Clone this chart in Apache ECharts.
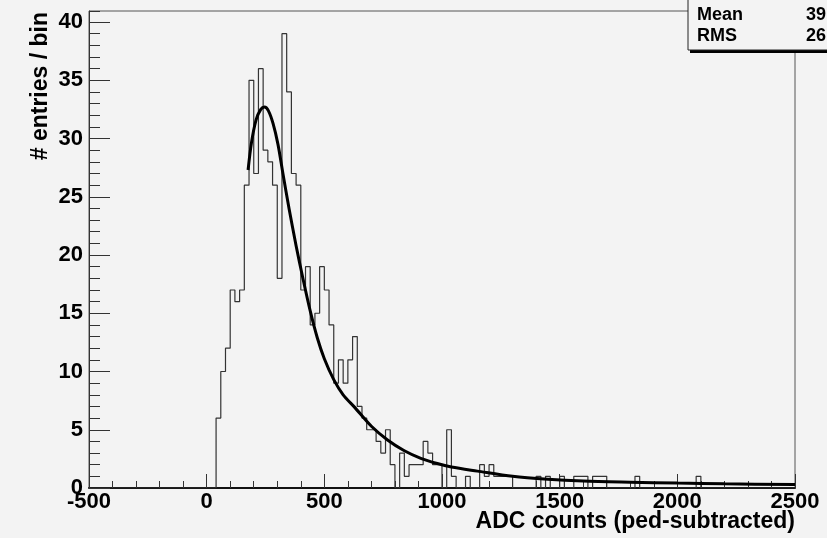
<!DOCTYPE html>
<html>
<head>
<meta charset="utf-8">
<script src="https://cdn.jsdelivr.net/npm/echarts@6/dist/echarts.min.js"></script>
<style>
html,body{margin:0;padding:0;background:#f3f3f3}
#chart{width:827px;height:538px}
</style>
</head>
<body>
<div id="chart"></div>
<script>
// histogram: 150 bins of 20 ADC counts from -500 to 2500
var binLow = -500;
var binWidth = 20;
var counts = [
  0,0,0,0,0,0,0,0,0,0, 0,0,0,0,0,0,0,0,0,0, 0,0,0,0,0,0,0,
  6,10,12,17,16,17,26,35,27,36,
  29,28,26,18,39,34,27,26,17,19,
  14,15,19,17,14,9,11,9,11,13,
  7,6,5,5,4,3,5,2,0,3,
  1,2,2,2,4,3,2,2,0,5,
  1,0,0,1,0,0,2,1,2,1,
  1,1,1,0,0,0,0,0,1,0,
  1,0,0,1,0,0,1,1,1,0,
  1,1,1,0,
  0,0,0,0,0,1,0,0,0,0, 0,0,0,0,0,0,0,0,1,0,
  0,0,0,0,0,0,0,0,0,0, 0,0,0,0,0,0,0,0,0
];

// fitted curve
var fitX = [176, 190, 210, 230, 246, 262, 282, 303, 324, 350, 380, 410, 440, 470, 500, 540, 580, 630,
            700, 770, 840, 910, 980, 1040, 1150, 1300, 1450, 1600, 1800, 2000, 2200, 2500];
var fitY = [27.3, 29.6, 31.6, 32.5, 32.7, 32.4, 31.3, 29.5, 27.0, 24.0, 20.8, 17.9, 15.2, 12.9, 11.1, 9.3, 8.0, 6.9,
            5.3, 4.1, 3.2, 2.55, 2.1, 1.8, 1.45, 1.0, 0.75, 0.6, 0.5, 0.42, 0.36, 0.3];

var statNames = ['Mean', 'RMS'];
var statValues = ['39', '26'];

var xMin = -500, xMax = 2500, xStep = 500;
var yMin = 0, yMax = 40.95, yStep = 5;

var histData = [];
for (var i = 0; i < counts.length; i++) {
  histData.push([binLow + i * binWidth, counts[i]]);
}
histData.push([binLow + counts.length * binWidth, counts[counts.length - 1]]);

var fitData = [];
for (var j = 0; j < fitX.length; j++) {
  fitData.push([fitX[j], fitY[j]]);
}

var labelFont = {fontFamily: 'Liberation Sans', fontWeight: 'bold', fontSize: 22, color: '#000',
                 formatter: function (v) { return String(v); }};

var chart = echarts.init(document.getElementById('chart'));
chart.setOption({
  backgroundColor: '#f3f3f3',
  animation: false,
  grid: {
    left: 89, right: 32, top: 11, bottom: 50,
    show: true, borderColor: '#555', borderWidth: 1, backgroundColor: 'transparent'
  },
  xAxis: {
    type: 'value', min: xMin, max: xMax, interval: xStep,
    axisLine: {onZero: false, lineStyle: {color: '#111', width: 2}},
    axisTick: {inside: true, length: 14, lineStyle: {color: '#333', width: 1}},
    minorTick: {show: true, splitNumber: 5, length: 7, lineStyle: {color: '#333', width: 1}},
    axisLabel: Object.assign({margin: 3}, labelFont),
    splitLine: {show: false}
  },
  yAxis: [{
    type: 'value', min: yMin, max: yMax, interval: yStep, position: 'left',
    axisLine: {show: true, onZero: false, lineStyle: {color: '#333', width: 1}},
    axisTick: {inside: true, length: 21, lineStyle: {color: '#333', width: 1}},
    axisLabel: Object.assign({margin: 6, showMaxLabel: false}, labelFont),
    splitLine: {show: false}
  }, {
    type: 'value', min: yMin, max: yMax, interval: 1, position: 'left',
    axisLine: {show: false, onZero: false},
    axisTick: {inside: true, length: 11, lineStyle: {color: '#333', width: 1}},
    axisLabel: {show: false},
    splitLine: {show: false}
  }],
  series: [{
    type: 'line', step: 'end', data: histData, symbol: 'none',
    lineStyle: {color: '#333', width: 1.2}, z: 2
  }, {
    type: 'line', data: fitData, symbol: 'none', smooth: 0.3,
    lineStyle: {color: '#000', width: 3}, z: 3
  }],
  graphic: [
    {type: 'text', x: 41, y: 12, rotation: Math.PI / 2, z: 50,
     style: {text: '# entries / bin', font: 'bold 23px "Liberation Sans"', fill: '#000',
              textAlign: 'right', textVerticalAlign: 'middle'}},
    {type: 'text', x: 795, y: 522, z: 50,
     style: {text: 'ADC counts (ped-subtracted)', font: 'bold 23px "Liberation Sans"', fill: '#000',
              textAlign: 'right', textVerticalAlign: 'middle'}},
    {type: 'rect', z: 99, shape: {x: 690, y: 50, width: 150, height: 3}, style: {fill: '#000'}},
    {type: 'rect', z: 100, shape: {x: 688, y: -2, width: 160, height: 52},
     style: {fill: '#f3f3f3', stroke: '#222', lineWidth: 1}},
    {type: 'text', x: 697, y: 15, z: 101,
     style: {text: statNames[0], font: 'bold 18px "Liberation Sans"', fill: '#000', textVerticalAlign: 'middle'}},
    {type: 'text', x: 697, y: 36, z: 101,
     style: {text: statNames[1], font: 'bold 18px "Liberation Sans"', fill: '#000', textVerticalAlign: 'middle'}},
    {type: 'text', x: 806, y: 15, z: 101,
     style: {text: statValues[0], font: 'bold 18px "Liberation Sans"', fill: '#000', textVerticalAlign: 'middle'}},
    {type: 'text', x: 806, y: 36, z: 101,
     style: {text: statValues[1], font: 'bold 18px "Liberation Sans"', fill: '#000', textVerticalAlign: 'middle'}}
  ]
});
</script>
</body>
</html>
